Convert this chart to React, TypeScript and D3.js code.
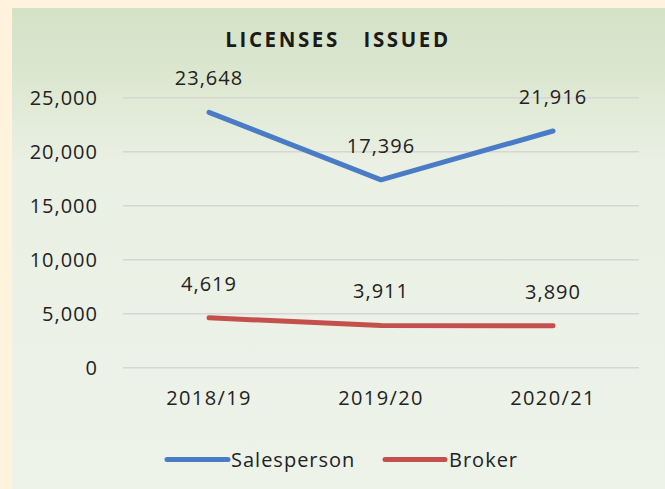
import React from "react";
import * as d3 from "d3";

const categories = ["2018/19", "2019/20", "2020/21"];
const salesperson = [23648, 17396, 21916];
const broker = [4619, 3911, 3890];
const yTicks = [0, 5000, 10000, 15000, 20000, 25000];
const seriesNames = ["Salesperson", "Broker"];
const seriesColors = ["#4A7BC6", "#C4504E"];

const W = 665;
const H = 489;
const FONT = "'Open Sans', 'Liberation Sans', sans-serif";

export default function App() {
  const x = d3.scaleBand<string>().domain(categories).range([123, 639]);
  const y = d3.scaleLinear().domain([0, 25000]).range([367.7, 97.7]);
  const cx = (c: string) => (x(c) as number) + x.bandwidth() / 2;
  const fmt = d3.format(",");
  const line = d3
    .line<number>()
    .x((_, i) => cx(categories[i]))
    .y((d) => y(d));
  const series = [salesperson, broker];

  const legendItems = [
    { x1: 167, x2: 228, tx: 231 },
    { x1: 385, x2: 445, tx: 449 },
  ];

  return (
    <svg
      width={W}
      height={H}
      style={{ position: "absolute", left: 0, top: 0 }}
      fontFamily={FONT}
    >
      <defs>
        <linearGradient id="bg" x1="0" y1="0" x2="0" y2="1">
          <stop offset="0%" stopColor="#D4E2C5" />
          <stop offset="12%" stopColor="#DAE6CE" />
          <stop offset="32%" stopColor="#EAF0E3" />
          <stop offset="100%" stopColor="#EEF3EA" />
        </linearGradient>
      </defs>
      <rect x={0} y={0} width={W} height={H} fill="#FFF3DD" />
      <rect x={12} y={8} width={W - 12} height={H - 8} fill="url(#bg)" />

      <text
        x={338}
        y={47}
        textAnchor="middle"
        fontSize={20.5}
        fontWeight="bold"
        letterSpacing={2.6}
        fill="#1a1a1a"
        style={{ whiteSpace: "pre" }}
      >
        {"LICENSES   ISSUED"}
      </text>

      {yTicks.map((t) => (
        <g key={t}>
          <line x1={123} x2={639} y1={y(t)} y2={y(t)} stroke="#D6D6D6" strokeWidth={1.5} />
          <text
            x={98}
            y={y(t)}
            dy="0.35em"
            textAnchor="end"
            fontSize={20}
            letterSpacing={1}
            fill="#222"
          >
            {fmt(t)}
          </text>
        </g>
      ))}

      {categories.map((c) => (
        <text
          key={c}
          x={cx(c)}
          y={405}
          textAnchor="middle"
          fontSize={20}
          letterSpacing={1.4}
          fill="#222"
        >
          {c}
        </text>
      ))}

      {series.map((s, si) => (
        <g key={si}>
          <path
            d={line(s) as string}
            fill="none"
            stroke={seriesColors[si]}
            strokeWidth={5}
            strokeLinecap="round"
            strokeLinejoin="round"
          />
          {s.map((v, i) => (
            <text
              key={i}
              x={cx(categories[i])}
              y={y(v) - 27}
              textAnchor="middle"
              fontSize={20}
              letterSpacing={1}
              fill="#222"
            >
              {fmt(v)}
            </text>
          ))}
        </g>
      ))}

      {legendItems.map((l, i) => (
        <g key={i}>
          <line
            x1={l.x1}
            x2={l.x2}
            y1={459.5}
            y2={459.5}
            stroke={seriesColors[i]}
            strokeWidth={5}
            strokeLinecap="round"
          />
          <text x={l.tx} y={466.5} fontSize={20} letterSpacing={1} fill="#222">
            {seriesNames[i]}
          </text>
        </g>
      ))}
    </svg>
  );
}
